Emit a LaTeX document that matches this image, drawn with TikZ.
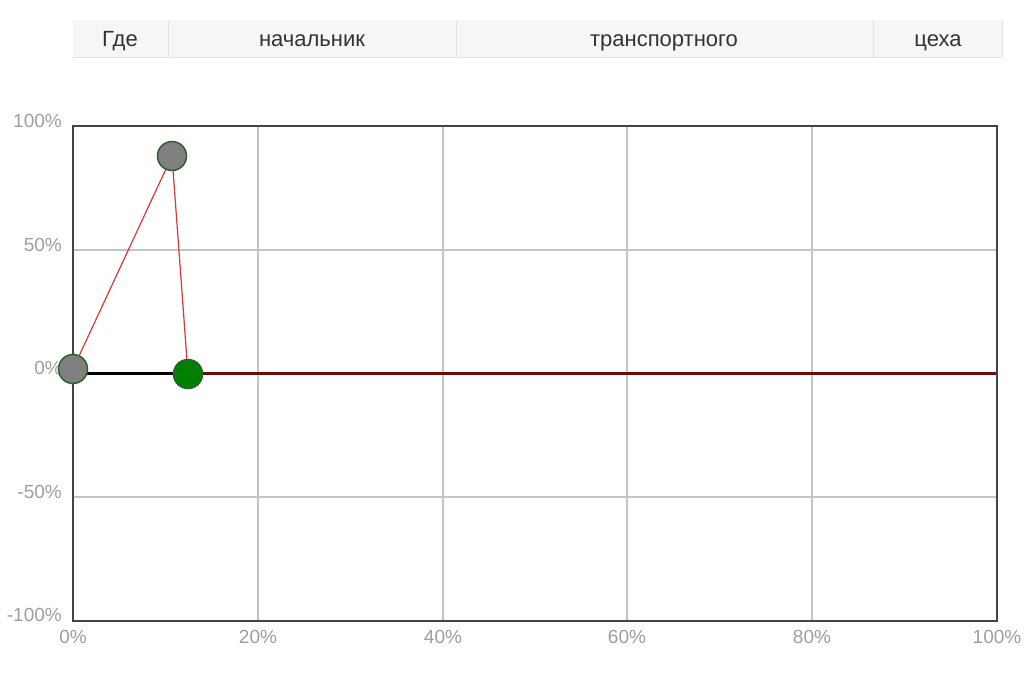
\documentclass[tikz,border=0pt]{standalone}
\usepackage{fontspec}
\setmainfont{Liberation Sans}
\definecolor{hdrbg}{HTML}{F6F6F6}
\definecolor{hdrline}{HTML}{E2E2E2}
\definecolor{hdrtext}{HTML}{333333}
\definecolor{ticktext}{HTML}{9E9E9E}
\definecolor{gridgray}{HTML}{C4C4C4}
\definecolor{framegray}{HTML}{444444}
\definecolor{linkred}{HTML}{D23A3A}
\definecolor{zerored}{HTML}{6E0A0A}
\definecolor{ptgreen}{HTML}{008000}
\definecolor{ptrim}{HTML}{2E5E2E}

\begin{document}
\begin{tikzpicture}[x=1pt,y=-1pt,every node/.style={inner sep=0pt},
    hcell/.style={font=\fontsize{22}{25}\selectfont,text=hdrtext,anchor=base},
    ylab/.style={font=\fontsize{19}{22}\selectfont,text=ticktext,anchor=base east},
    xlab/.style={font=\fontsize{19}{22}\selectfont,text=ticktext,anchor=base},
    gpt/.style={circle,minimum size=29pt,draw=ptrim,line width=1.5pt,fill=gray}]
                \useasboundingbox (0,0) rectangle (1033,672);

                \fill[hdrbg] (73,20) rectangle (1002,57);
                \draw[hdrline,line width=1.5pt] (73,57.5) -- (1002,57.5);
                \foreach \x in {168,456,873,1002}
                    \draw[hdrline,line width=1pt] (\x,20) -- (\x,57);
                \node[hcell] (h1) at (120,46.5) {Где};
                \node[hcell] (h2) at (312,46.5) {начальник};
                \node[hcell] (h3) at (664,46.5) {транспортного};
                \node[hcell] (h4) at (938,46.5) {цеха};

                \foreach \x in {258,443,627,812}
                    \draw[gridgray,line width=2pt] (\x,126) -- (\x,621);
                \foreach \y in {250,497}
                    \draw[gridgray,line width=2pt] (73,\y) -- (997,\y);
                \draw[framegray,line width=2.2pt] (73,126) rectangle (997,621);

                \foreach \y/\t [count=\i] in {127/100,251/50,374/0,498/-50,621/-100}
                    \node[ylab] (yl\i) at (62,\y) {\t\%};
                \foreach \x/\t [count=\i] in {73/0,258/20,443/40,627/60,812/80,997/100}
                    \node[xlab] (xl\i) at (\x,643) {\t\%};

                \coordinate (z0) at (73,373.5);
                \coordinate (z1) at (188,373.5);
                \coordinate (z2) at (996,373.5);
                \draw[black,line width=2.5pt] (z0) -- (z1);
                \draw[zerored,line width=2.5pt] (z1) -- (z2);

                \node[gpt] (start) at (73,369) {};
                \node[gpt] (peak) at (172,156) {};
                \node[gpt,fill=ptgreen] (finish) at (188,374) {};
                \draw[linkred,line width=1.2pt] (start) -- (peak) -- (finish);
            \end{tikzpicture}
\end{document}
